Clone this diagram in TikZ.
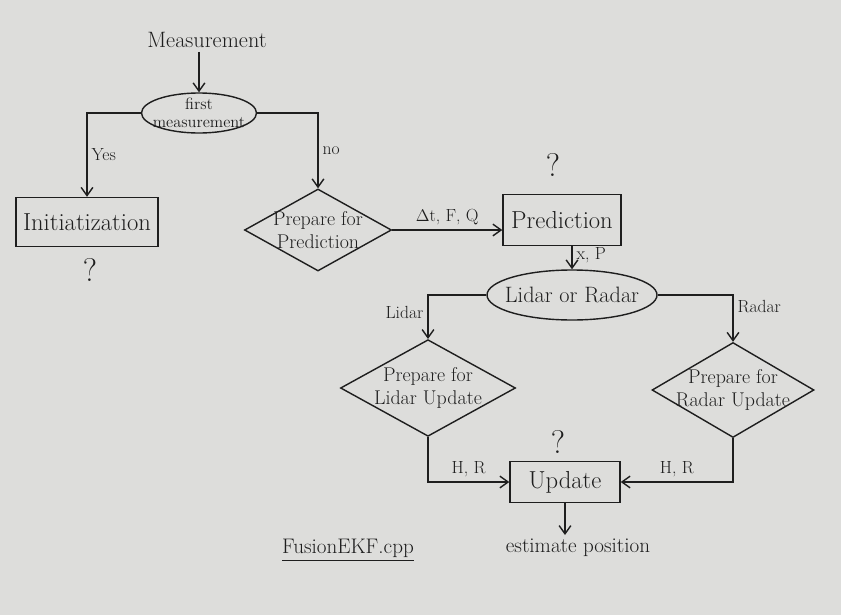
\documentclass[tikz,border=0pt]{standalone}
\usepackage{amsmath}
\usetikzlibrary{shapes.geometric, arrows.meta, positioning, calc}
\definecolor{ink}{RGB}{30,30,30}
\definecolor{paper}{RGB}{221,221,219}
\tikzset{
  box/.style={draw=ink, line width=1.2pt, rectangle, inner sep=0pt, text=ink, font=\fontsize{21}{24}\selectfont},
  choice/.style={draw=ink, line width=1.2pt, ellipse, inner sep=0pt},
  decision/.style={draw=ink, line width=1.2pt, diamond, inner sep=0pt},
  intext/.style={align=center, text=ink, inner sep=0pt},
  flow/.style={draw=ink, line width=1.2pt, -{Straight Barb[length=7pt, width=10pt]}},
  tag/.style={text=ink, font=\fontsize{15}{17}\selectfont},
  qmark/.style={text=ink, font=\fontsize{28}{32}\selectfont},
}

\begin{document}
\begin{tikzpicture}[x=0.03cm, y=-0.03cm]
  \fill[paper] (0,0) rectangle (841,615);

  % Start and first check
  \node[tag, font=\fontsize{19}{22}\selectfont] (meas) at (207,40) {Measurement};
  \node[choice, minimum width=3.45cm, minimum height=1.2cm,
        label={[intext, font=\fontsize{14}{15}\selectfont]center:first\\measurement}] (first) at (199,113) {};

  \node[box, minimum width=4.26cm, minimum height=1.47cm] (init) at (87,222) {Initiatization};
  \node[qmark] (qinit) at (90,270) {?};

  \node[decision, minimum width=4.41cm, minimum height=2.46cm,
        label={[intext, font=\fontsize{17}{20}\selectfont]center:Prepare for\\Prediction}] (prep) at (318,230) {};

  % Prediction
  \node[box, minimum width=3.54cm, minimum height=1.53cm] (pred) at (562,220) {Prediction};
  \node[qmark] (qpred) at (553,165) {?};

  \node[choice, minimum width=5.1cm, minimum height=1.5cm,
        label={[intext, font=\fontsize{19}{22}\selectfont]center:Lidar or Radar}] (lor) at (572,295) {};

  % Sensor branches
  \node[decision, minimum width=5.25cm, minimum height=2.9cm,
        label={[intext, font=\fontsize{17}{20}\selectfont]center:Prepare for\\Lidar Update}] (prepL) at (428,388) {};
  \node[decision, minimum width=4.86cm, minimum height=2.85cm,
        label={[intext, font=\fontsize{17}{20}\selectfont]center:Prepare for\\Radar Update}] (prepR) at (733,390) {};

  % Update
  \node[box, minimum width=3.3cm, minimum height=1.23cm] (upd) at (565,482) {Update};
  \node[qmark] (qupd) at (558,442) {?};
  \node[tag, font=\fontsize{18}{21}\selectfont] (est) at (578,548) {estimate position};

  \node[tag, font=\fontsize{18}{21}\selectfont] (fusion) at (348,550) {\underline{FusionEKF.cpp}};

  % Connectors
  \draw[flow] (first.north |- meas.south) -- (first.north);
  \draw[flow] (first.west) -| node[tag, pos=0.75, right] {Yes} (init.north);
  \draw[flow] (first.east) -| node[tag, pos=0.75, right] {no} (prep.north);
  \draw[flow] (prep.east) -- node[tag, above] {$\Delta$t, F, Q} (pred.west |- prep.east);
  \draw[flow] (pred.south -| lor.north) -- node[tag, right, yshift=2pt] {x, P} (lor.north);
  \draw[flow] (lor.west) -| node[tag, pos=0.7, left] {Lidar} (prepL.north);
  \draw[flow] (lor.east) -| node[tag, pos=0.62, right] {Radar} (prepR.north);
  \draw[flow] (prepL.south) |- node[tag, pos=0.75, above] {H, R} (upd.west);
  \draw[flow] (prepR.south) |- node[tag, pos=0.75, above] {H, R} (upd.east);
  \draw[flow] (upd.south) -- (upd.south |- est.north);
\end{tikzpicture}
\end{document}
